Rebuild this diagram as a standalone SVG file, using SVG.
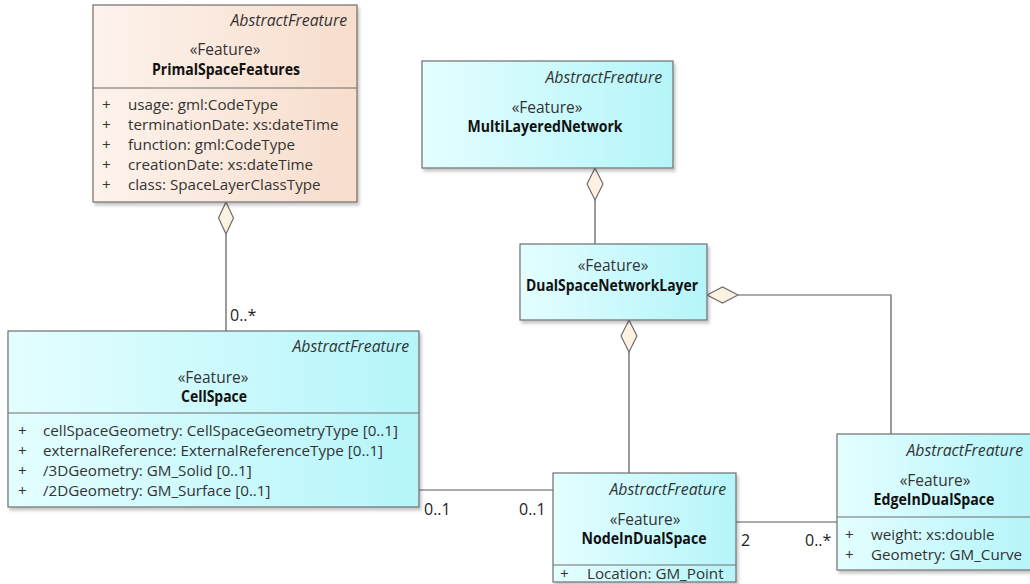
<svg xmlns="http://www.w3.org/2000/svg" width="1030" height="584" viewBox="0 0 1030 584">
<defs>
<linearGradient id="cyan" x1="0" y1="0" x2="1" y2="0">
<stop offset="0" stop-color="#e4feff"/>
<stop offset="1" stop-color="#b5f5fa"/>
</linearGradient>
<linearGradient id="peach" x1="0" y1="0" x2="1" y2="0">
<stop offset="0" stop-color="#fdf3ec"/>
<stop offset="1" stop-color="#f7ddcc"/>
</linearGradient>
<filter id="sh" x="-5%" y="-5%" width="112%" height="115%">
<feDropShadow dx="2" dy="3" stdDeviation="1.5" flood-color="#000" flood-opacity="0.22"/>
</filter>
</defs>
<style>
text{font-family:"Open Sans","Noto Sans","DejaVu Sans",sans-serif;font-size:15.2px;fill:#333}
.ab{font-style:italic;text-anchor:end;font-size:15.8px}
.st{text-anchor:middle;font-size:15.5px}
.nm{text-anchor:middle;font-weight:bold;fill:#111;font-size:15.4px}
.box{stroke:#6e6e6e;stroke-width:1.2;filter:url(#sh)}
.cy{fill:url(#cyan)}
.pe{fill:url(#peach)}
.sep{stroke:#6e6e6e;stroke-width:1.2}
.ln{fill:none;stroke:#5a5a5a;stroke-width:1.2}
.dm{fill:#fdf2e2;stroke:#6e6e6e;stroke-width:1.2}
.ml{font-size:16px;fill:#222}
</style>
<rect width="1030" height="584" fill="#fff"/>

<g id="connectors">
<path class="ln" d="M226,234 V331"/>
<path class="ln" d="M595,200 V244"/>
<path class="ln" d="M629,352 V473"/>
<path class="ln" d="M738,295 H891 V434"/>
<path class="ln" d="M419,490 H553"/>
<path class="ln" d="M736,522 H837"/>
<polygon class="dm" points="226,202 233.5,218 226,234 218.5,218"/>
<polygon class="dm" points="595,168 603,184 595,200 587,184"/>
<polygon class="dm" points="629,320 637,336 629,352 621,336"/>
<polygon class="dm" points="707,295 722.5,287 738,295 722.5,303"/>
<text class="ml" x="230" y="321">0..*</text>
<text class="ml" x="424" y="515">0..1</text>
<text class="ml" x="519" y="515">0..1</text>
<text class="ml" x="741" y="546">2</text>
<text class="ml" x="805" y="546">0..*</text>
</g>

<g id="PrimalSpaceFeatures">
<rect class="box pe" x="93" y="5" width="264" height="197"/>
<line class="sep" x1="93" y1="88" x2="357" y2="88"/>
<text class="ab" x="347" y="26">AbstractFreature</text>
<text class="st" x="225" y="55">«Feature»</text>
<text class="nm" x="226" y="75" textLength="148" lengthAdjust="spacingAndGlyphs">PrimalSpaceFeatures</text>
<text x="102" y="110">+</text><text x="128" y="110">usage: gml:CodeType</text>
<text x="102" y="130">+</text><text x="128" y="130">terminationDate: xs:dateTime</text>
<text x="102" y="150">+</text><text x="128" y="150">function: gml:CodeType</text>
<text x="102" y="170">+</text><text x="128" y="170">creationDate: xs:dateTime</text>
<text x="102" y="190">+</text><text x="128" y="190">class: SpaceLayerClassType</text>
</g>

<g id="MultiLayeredNetwork">
<rect class="box cy" x="422" y="61" width="251" height="107"/>
<text class="ab" x="662" y="83">AbstractFreature</text>
<text class="st" x="547" y="113">«Feature»</text>
<text class="nm" x="545" y="132" textLength="155" lengthAdjust="spacingAndGlyphs">MultiLayeredNetwork</text>
</g>

<g id="DualSpaceNetworkLayer">
<rect class="box cy" x="520" y="244" width="187" height="76"/>
<text class="st" x="613" y="271">«Feature»</text>
<text class="nm" x="612" y="291" textLength="172" lengthAdjust="spacingAndGlyphs">DualSpaceNetworkLayer</text>
</g>

<g id="CellSpace">
<rect class="box cy" x="8" y="331" width="411" height="176"/>
<line class="sep" x1="8" y1="413" x2="419" y2="413"/>
<text class="ab" x="409" y="352">AbstractFreature</text>
<text class="st" x="213" y="383">«Feature»</text>
<text class="nm" x="214" y="402" textLength="66" lengthAdjust="spacingAndGlyphs">CellSpace</text>
<text x="18" y="436">+</text><text x="43" y="436">cellSpaceGeometry: CellSpaceGeometryType [0..1]</text>
<text x="18" y="456">+</text><text x="43" y="456">externalReference: ExternalReferenceType [0..1]</text>
<text x="18" y="476">+</text><text x="43" y="476">/3DGeometry: GM_Solid [0..1]</text>
<text x="18" y="496">+</text><text x="43" y="496">/2DGeometry: GM_Surface [0..1]</text>
</g>

<g id="NodeInDualSpace">
<rect class="box cy" x="553" y="473" width="183" height="109"/>
<line class="sep" x1="553" y1="565" x2="736" y2="565"/>
<text class="ab" x="726" y="495">AbstractFreature</text>
<text class="st" x="645" y="525">«Feature»</text>
<text class="nm" x="644" y="544" textLength="125" lengthAdjust="spacingAndGlyphs">NodeInDualSpace</text>
<text x="560" y="579">+</text><text x="587" y="579">Location: GM_Point</text>
</g>

<g id="EdgeInDualSpace">
<rect class="box cy" x="837" y="434" width="197" height="136"/>
<line class="sep" x1="837" y1="517" x2="1034" y2="517"/>
<text class="ab" x="1023" y="456">AbstractFreature</text>
<text class="st" x="935" y="486">«Feature»</text>
<text class="nm" x="934" y="505" textLength="121" lengthAdjust="spacingAndGlyphs">EdgeInDualSpace</text>
<text x="845" y="540">+</text><text x="871" y="540">weight: xs:double</text>
<text x="845" y="560">+</text><text x="871" y="560">Geometry: GM_Curve</text>
</g>
</svg>
